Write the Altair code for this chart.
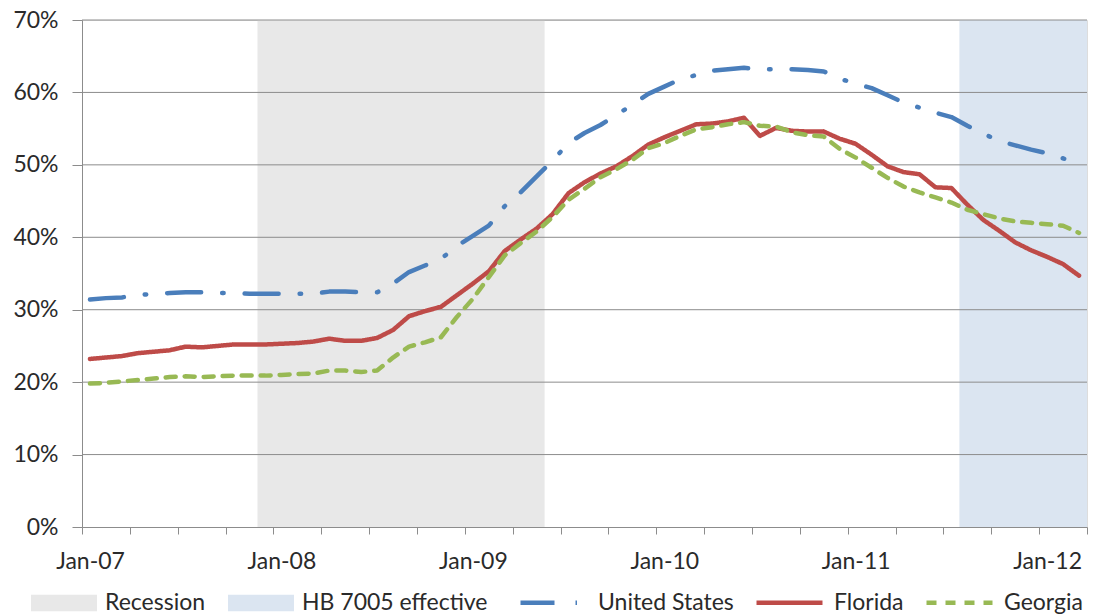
import altair as alt
import pandas as pd
import numpy as np

# ---- data (percent) -------------------------------------------------------
months = list(pd.date_range("2007-01-01", periods=63, freq="MS").strftime("%b-%y"))

us = [31.4, 31.6, 31.7, 32.0, 32.2, 32.3, 32.4, 32.4, 32.3, 32.3, 32.2, 32.2,
      32.2, 32.2, 32.2, 32.5, 32.5, 32.4, 32.4, 33.6, 35.2, 36.1, 37.0, 38.8,
      40.2, 41.6, 44.3, 46.2, 48.4, 50.6, 53.0, 54.4, 55.5, 56.9, 58.3, 59.8,
      60.8, 61.8, 62.4, 63.0, 63.2, 63.4, 63.2, 63.2, 63.2, 63.1, 62.9, 61.9,
      61.2, 60.6, 59.6, 58.6, 57.9, 57.2, 56.6, 55.4, 54.3, 53.3, 52.7, 52.1,
      51.6, 50.9, 50.0]

florida = [23.2, 23.4, 23.6, 24.0, 24.2, 24.4, 24.9, 24.8, 25.0, 25.2, 25.2, 25.2,
           25.3, 25.4, 25.6, 26.0, 25.7, 25.7, 26.1, 27.2, 29.1, 29.8, 30.4, 32.0,
           33.6, 35.3, 38.1, 39.7, 41.2, 43.2, 46.1, 47.6, 48.8, 49.8, 51.2, 52.8,
           53.8, 54.7, 55.6, 55.7, 56.0, 56.5, 54.0, 55.1, 54.7, 54.6, 54.6, 53.6,
           52.9, 51.4, 49.8, 49.0, 48.7, 46.9, 46.8, 44.5, 42.4, 40.9, 39.3, 38.2,
           37.3, 36.3, 34.7]

georgia = [19.8, 19.9, 20.1, 20.3, 20.5, 20.7, 20.8, 20.7, 20.8, 20.9, 20.9, 20.9,
           21.0, 21.1, 21.2, 21.6, 21.6, 21.4, 21.6, 23.4, 24.9, 25.5, 26.2, 29.0,
           31.5, 34.5, 37.5, 39.2, 40.8, 42.8, 45.2, 46.7, 48.3, 49.4, 50.7, 52.3,
           53.0, 54.0, 54.9, 55.2, 55.6, 55.9, 55.4, 55.3, 54.5, 54.1, 53.9, 52.2,
           51.0, 49.6, 48.2, 47.0, 46.2, 45.5, 44.8, 43.8, 43.2, 42.6, 42.2, 42.0,
           41.8, 41.6, 40.6]

series_names = ["United States", "Florida", "Georgia"]
series_colors = ["#4a7ebb", "#be4b48", "#98b954"]
series_dash = [[34, 21, 1.5, 21], [1, 0], [10, 9]]

band_names = ["Recession", "HB 7005 effective"]
band_start = ["Dec-07", "Aug-11"]
band_end = ["Jun-09", "Apr-12"]
band_colors = ["#e8e8e8", "#dbe5f1"]

x_labels = ["Jan-07", "Jan-08", "Jan-09", "Jan-10", "Jan-11", "Jan-12"]
y_ticks = [0, 10, 20, 30, 40, 50, 60, 70]


def month_index(label):
    d = pd.to_datetime(label, format="%b-%y")
    return (d.year - 2007) * 12 + d.month - 1


# ---- tables -----------------------------------------------------------------
rows = []
for name, vals in zip(series_names, [us, florida, georgia]):
    for m, v in zip(months, vals):
        rows.append({"month": m, "t": month_index(m) + 0.5, "series": name, "value": v})
lines_df = pd.DataFrame(rows)

bands_df = pd.DataFrame({
    "band": band_names,
    "start": [month_index(s) for s in band_start],
    "end": [month_index(e) for e in band_end],
})
grid_df = pd.DataFrame({"g": y_ticks[1:]})

FONT = "Lato"
TXT = "#2a2a2a"
GRID = "#8c8c8c"
x_end = 63

label_js = "[" + ",".join("'%s'" % s for s in x_labels) + "]"

x_scale = alt.Scale(domain=[0, x_end], nice=False, zero=False)
y_scale = alt.Scale(domain=[0, 70], nice=False)

x_axis = alt.Axis(
    values=list(range(0, x_end + 1, 3)),
    labelExpr=f"datum.value % 12 == 0 ? {label_js}[datum.value / 12] : ''",
    labelOffset=8, labelFlush=False, labelOverlap=False,
    grid=False, tickSize=7, tickColor=GRID, domainColor=GRID,
    labelPadding=16, labelFontSize=23, labelFont=FONT, labelColor=TXT,
    title=None, zindex=1,
)
y_axis = alt.Axis(
    values=y_ticks, labelExpr="datum.value + '%'",
    grid=False, tickSize=10, tickColor=GRID, domainColor=GRID,
    labelPadding=14, labelFontSize=23, labelFont=FONT, labelColor=TXT,
    title=None, zindex=1,
)

band_legend = alt.Legend(
    orient="none", legendX=-51, legendY=550, direction="horizontal", title=None,
    symbolType="M-1,-0.25H1V0.25H-1Z", symbolSize=4356, symbolStrokeWidth=0,
    symbolOpacity=1, labelFontSize=23, labelFont=FONT, labelColor=TXT,
    labelOffset=8, columnPadding=22, padding=0, labelLimit=400,
)
line_legend = alt.Legend(
    orient="none", legendX=436, legendY=547, direction="horizontal", title=None,
    symbolType="stroke", symbolSize=4356, symbolStrokeWidth=4.5,
    labelFontSize=23, labelFont=FONT, labelColor=TXT,
    labelOffset=9, columnPadding=13, padding=0, labelLimit=400,
)

bands = alt.Chart(bands_df).mark_rect(opacity=1).encode(
    x=alt.X("start:Q", scale=x_scale, axis=x_axis),
    x2="end:Q",
    fill=alt.Fill("band:N", scale=alt.Scale(domain=band_names, range=band_colors),
                  legend=band_legend),
)

grid = alt.Chart(grid_df).mark_rule(color=GRID, strokeWidth=1).encode(
    y=alt.Y("g:Q", scale=y_scale, axis=y_axis),
)

lines = alt.Chart(lines_df).mark_line(strokeWidth=4.5, strokeCap="round",
                                      strokeJoin="round").encode(
    x=alt.X("t:Q", scale=x_scale, axis=x_axis),
    y=alt.Y("value:Q", scale=y_scale, axis=y_axis),
    stroke=alt.Stroke("series:N", scale=alt.Scale(domain=series_names, range=series_colors),
                      legend=line_legend),
    strokeDash=alt.StrokeDash("series:N", scale=alt.Scale(domain=series_names, range=series_dash),
                              legend=line_legend),
    order=alt.Order("t:Q"),
)

chart = alt.layer(bands, grid, lines).properties(
    width=1005, height=507,
    autosize=alt.AutoSizeParams(type="none"),
    padding={"left": 82, "top": 20, "right": 12, "bottom": 88},
).configure_view(stroke=None).configure(background="white")

chart.save("out.html", embed_options={"renderer": "svg", "actions": False})
